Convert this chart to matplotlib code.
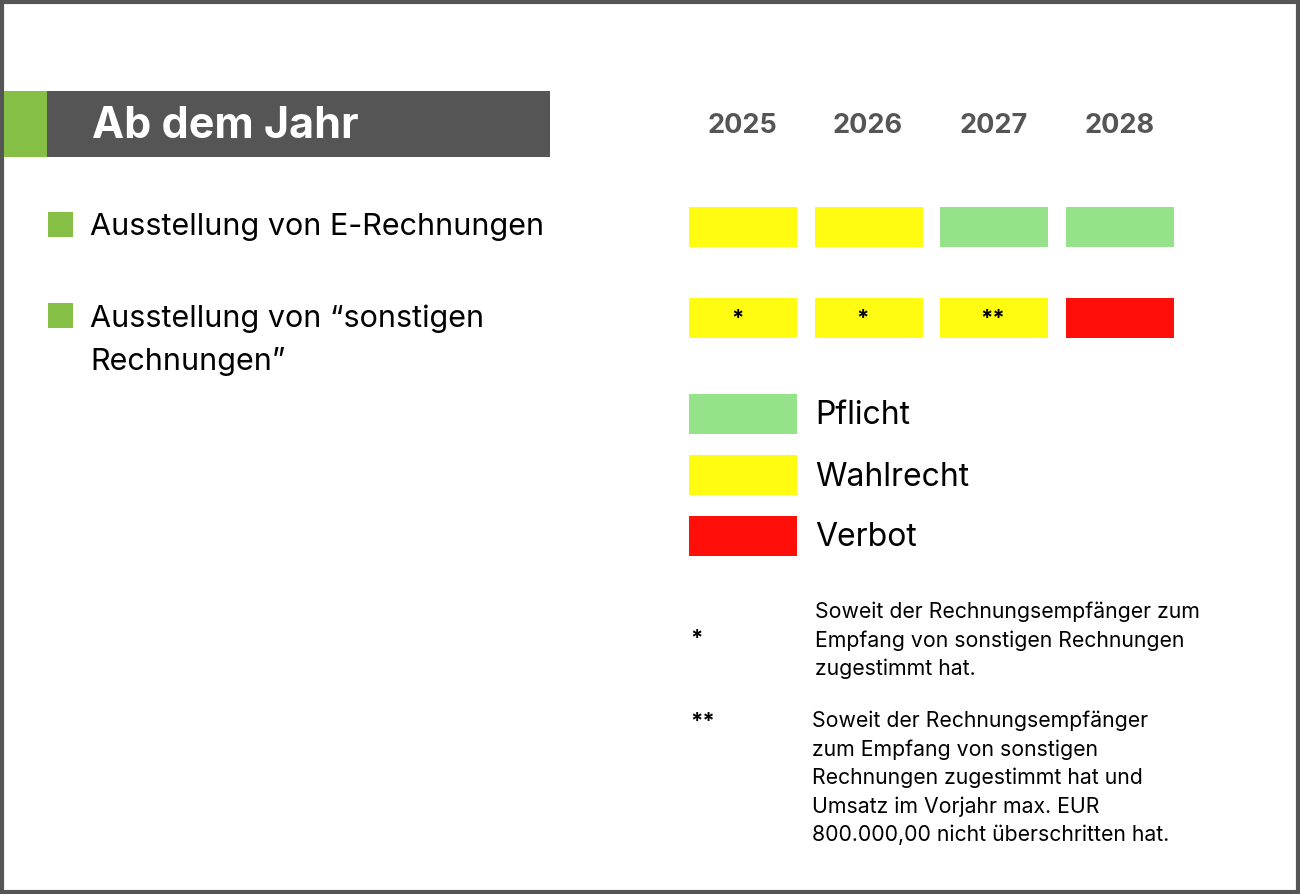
import matplotlib.pyplot as plt
from matplotlib.patches import Rectangle

plt.rcParams['font.family'] = ['Inter', 'DejaVu Sans']

# Data
title = "Ab dem Jahr"
years = [2025, 2026, 2027, 2028]
row_labels = ["Ausstellung von E-Rechnungen", "Ausstellung von \u201csonstigen\nRechnungen\u201d"]
status = [["Wahlrecht", "Wahlrecht", "Pflicht", "Pflicht"],
          ["Wahlrecht", "Wahlrecht", "Wahlrecht", "Verbot"]]
marks = [["", "", "", ""],
         ["*", "*", "**", ""]]
legend_labels = ["Pflicht", "Wahlrecht", "Verbot"]
footnote_keys = ["*", "**"]
footnote_texts = [
    "Soweit der Rechnungsempfänger zum\nEmpfang von sonstigen Rechnungen\nzugestimmt hat.",
    "Soweit der Rechnungsempfänger\nzum Empfang von sonstigen\nRechnungen zugestimmt hat und\nUmsatz im Vorjahr max. EUR\n800.000,00 nicht überschritten hat.",
]

colors = {"Pflicht": "#96e28a", "Wahlrecht": "#fffc12", "Verbot": "#ff0e0a"}
dark = "#555555"
green = "#86bf45"

# Layout (pixels)
W, H = 1300, 894
col_left0, col_pitch, cell_w = 689, 125.7, 108
row_y0, row_pitch, cell_h = 227, 91, 40

fig = plt.figure(figsize=(W / 100, H / 100), dpi=100)
ax = fig.add_axes([0, 0, 1, 1])
ax.set_xlim(0, W)
ax.set_ylim(H, 0)
ax.axis('off')

# frame
ax.add_patch(Rectangle((2, 2), W - 4, H - 4, fill=False, ec=dark, lw=3))

# title bar
ax.add_patch(Rectangle((4, 91), 43, 66, color=green, lw=0))
ax.add_patch(Rectangle((47, 91), 503, 66, color=dark, lw=0))
ax.text(92, 126, title, color="white", fontsize=31, fontweight="bold", va="center", ha="left")

# years
for j, yr in enumerate(years):
    ax.text(col_left0 + j * col_pitch + cell_w / 2 - 1, 126, str(yr), color=dark,
            fontsize=19.5, fontweight="bold", ha="center", va="center")

# rows
for i, label in enumerate(row_labels):
    yc = row_y0 + i * row_pitch
    ax.add_patch(Rectangle((48, yc - 15), 25, 25, color=green, lw=0))
    for k, line in enumerate(label.split("\n")):
        ax.text(90, yc + (0 if i == 0 else 1) + k * 42, line, fontsize=22, va="center", ha="left", color="black")
    lefts = [col_left0 + j * col_pitch for j in range(len(years))]
    ax.barh([yc] * len(years), [cell_w] * len(years), left=lefts, height=cell_h,
            color=[colors[s] for s in status[i]])
    for j, m in enumerate(marks[i]):
        if m:
            ax.text(lefts[j] + cell_w / 2 - (6 if len(m) == 1 else 2), yc + 1, m, fontsize=16,
                    fontweight="bold", ha="center", va="center")

# legend
for k, lab in enumerate(legend_labels):
    yc = 414 + k * 61
    ax.barh(yc, cell_w, left=col_left0, height=cell_h, color=colors[lab])
    ax.text(815, yc + 2, lab, fontsize=23, va="center", ha="left")

# footnotes
fn_key_y = [636, 719]
fn_top = [612, 721]
fn_x = [815, 812]
for key, txt, ky, ty, tx in zip(footnote_keys, footnote_texts, fn_key_y, fn_top, fn_x):
    ax.text(690, ky + 3, key, fontsize=16, fontweight="bold", va="center", ha="left")
    for k, line in enumerate(txt.split("\n")):
        ax.text(tx, ty + k * 28.5, line, fontsize=15.3, va="center", ha="left")

fig.savefig("out.png", dpi=100, facecolor="white")
